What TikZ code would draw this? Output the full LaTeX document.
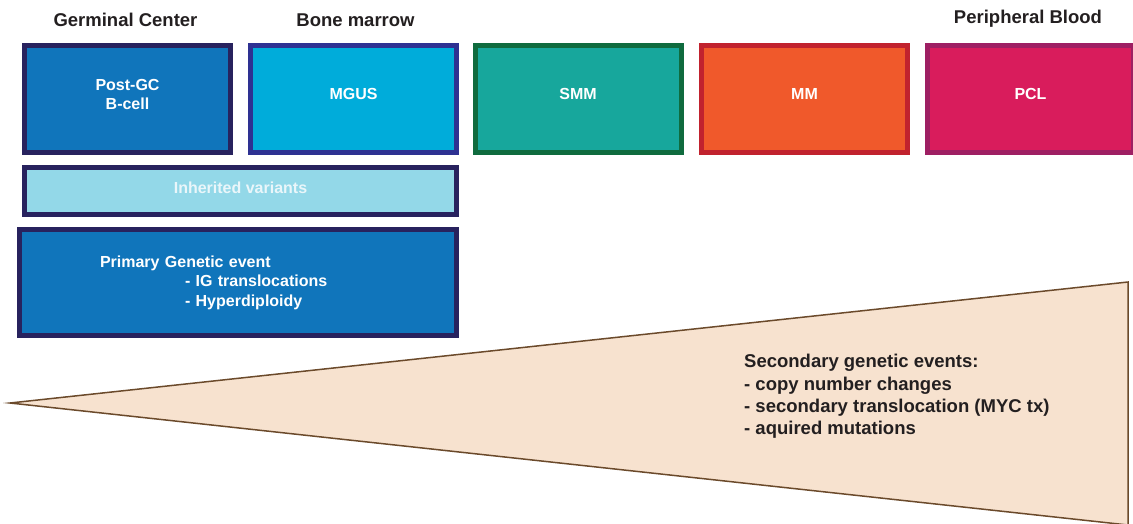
\documentclass[tikz,border=0pt]{standalone}
\usepackage{fontspec}
\setmainfont{Liberation Sans}
\usepackage{tikz}

\definecolor{ink}{HTML}{231F20}
\definecolor{navy}{HTML}{28225E}
\definecolor{gcblue}{HTML}{1075BB}
\definecolor{mgusblue}{HTML}{00ACDA}
\definecolor{mgusrim}{HTML}{2E3192}
\definecolor{smmteal}{HTML}{17A79C}
\definecolor{smmrim}{HTML}{0F6B3E}
\definecolor{mmorange}{HTML}{F0592B}
\definecolor{mmrim}{HTML}{C1222E}
\definecolor{pclpink}{HTML}{D91C5C}
\definecolor{pclrim}{HTML}{9E1F63}
\definecolor{inhblue}{HTML}{93D8E8}
\definecolor{inhtext}{HTML}{EAF6FA}
\definecolor{wedge}{HTML}{F7E2CF}
\definecolor{wedgerim}{HTML}{6B4A2B}

\begin{document}
\begin{tikzpicture}[x=1pt,y=-1pt,
  site/.style={text=ink,font=\fontsize{18.5}{22}\selectfont\bfseries},
  stage/.style={draw,line width=5pt,inner sep=0pt,minimum width=206pt,minimum height=107pt,
    text depth=10pt,text=white,align=center,font=\fontsize{16}{19}\selectfont\bfseries}]
  \useasboundingbox (0,0) rectangle (1133,523);
  \clip (0,0) rectangle (1133,523);
  \filldraw[fill=wedge,draw=wedgerim,line width=1.5pt] (10,403) -- (1128,282) -- (1128,525) -- cycle;
  \node[site] (germinal) at (125.5,20) {Germinal Center};
  \node[site] (marrow) at (355.5,20) {Bone marrow};
  \node[site] (blood) at (1028,19) {Peripheral Blood};
  \node[stage,fill=gcblue,draw=navy] (postgc) at (127.5,99) {Post-GC\\B-cell};
  \node[stage,fill=mgusblue,draw=mgusrim] (mgus) at (353.5,99) {MGUS};
  \node[stage,fill=smmteal,draw=smmrim] (smm) at (578,99) {SMM};
  \node[stage,fill=mmorange,draw=mmrim] (mm) at (804.5,99) {MM};
  \node[stage,fill=pclpink,draw=pclrim] (pcl) at (1030.5,99) {PCL};
  \node[draw=navy,fill=inhblue,line width=5pt,inner sep=0pt,minimum width=432pt,minimum height=47pt,
    text depth=6pt,text=inhtext,font=\fontsize{16}{19}\selectfont\bfseries] (inherited) at (240.5,191) {Inherited variants};
  \node[draw=navy,fill=gcblue,line width=5pt,inner xsep=80.5pt,inner ysep=0pt,text width=276pt,
    minimum height=106pt,align=left,text=white,font=\fontsize{16}{19.5}\selectfont\bfseries] (primary) at (238,282.5)
    {Primary Genetic event\\\hspace*{85pt}- IG translocations\\\hspace*{85pt}- Hyperdiploidy};
  \node[anchor=west,inner sep=0pt,align=left,text=ink,font=\fontsize{18.5}{22.3}\selectfont\bfseries] (secondary) at (744,396.5)
    {Secondary genetic events:\\- copy number changes\\- secondary translocation (MYC tx)\\- aquired mutations};
\end{tikzpicture}
\end{document}
